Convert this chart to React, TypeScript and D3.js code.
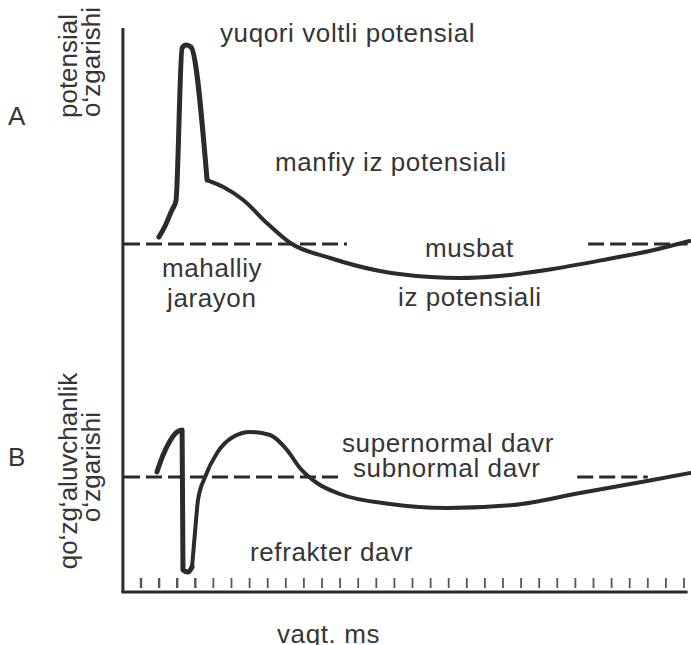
import * as d3 from "d3";

// time axis: one tick per unit
const tickTimes = d3.range(0, 31);

// A: membrane potential change (spike part, then trace potentials)
const spikeATime = [0.99, 1.33, 1.71, 1.93, 2.27, 2.49, 2.76, 3.65];
const spikeAValue = [3.5, 9, 17, 21.5, 98, 99.5, 98.5, 32];
const traceATime = [3.65, 4.55, 5.65, 6.95, 8.25, 10.45, 13.2, 16, 17.6, 19.8, 22.4, 26.1, 28.1, 30.3];
const traceAValue = [32, 28.5, 22, 10.5, 0.5, -7, -13.5, -16.5, -17, -16, -13, -7, -3.5, 1.5];

// B: excitability change
const spikeBTime = [0.88, 1.22, 1.6, 1.99, 2.27, 2.32, 2.6, 2.82];
const spikeBValue = [2.5, 11, 18, 22.5, 23.5, -46.5, -47.5, -45];
const traceBTime = [2.82, 2.98, 3.15, 3.54, 4.2, 5.08, 6.02, 7.13, 8.07, 8.78, 9.72, 10.99, 13.76, 16.9, 20.55, 24.25, 27.96, 30.33];
const traceBValue = [-45, -28, -11.5, 0, 12, 20, 22.5, 21, 13.5, 4.5, -3, -8.5, -13.5, -15.5, -14, -8, -2, 2];

// dashed zero lines (time spans, gaps left for labels)
const baselineA = [[-0.94, 11.38], [24.7, 30.2]];
const baselineB = [[-0.94, 10.99], [24.1, 28.0]];

const zip = (t: number[], v: number[]) => t.map((d, i) => ({ t: d, v: v[i] }));

export default function App() {
  const width = 691;
  const height = 645;

  const x = d3.scaleLinear().domain([0, 30]).range([141, 684]);
  const yA = d3.scaleLinear().domain([-20, 100]).range([284, 44]);
  const yB = d3.scaleLinear().domain([-50, 25]).range([577, 427]);

  const axisLeft = x(-1);
  const axisRight = x(30.2);
  const axisBottomY = 592;

  const lineA = d3.line<{ t: number; v: number }>().x((d) => x(d.t)).y((d) => yA(d.v));
  const lineB = d3.line<{ t: number; v: number }>().x((d) => x(d.t)).y((d) => yB(d.v));
  const smoothA = lineA.curve(d3.curveMonotoneX);
  const smoothB = lineB.curve(d3.curveMonotoneX);

  const ink = "#2b2b2b";
  const textColor = "#363636";
  const font = "'Liberation Sans', Arial, Helvetica, sans-serif";

  const label = (txt: string, lx: number, ly: number) => (
    <text x={lx} y={ly} fill={textColor} fontSize={26} letterSpacing={0.6} fontFamily={font}>
      {txt}
    </text>
  );
  const vlabel = (txt: string, lx: number, ly: number) => (
    <text
      transform={`translate(${lx},${ly}) rotate(-90)`}
      textAnchor="middle"
      fill={textColor}
      fontSize={26}
      fontFamily={font}
    >
      {txt}
    </text>
  );

  return (
    <svg
      width={width}
      height={height}
      viewBox={`0 0 ${width} ${height}`}
      style={{ position: "absolute", left: 0, top: 0, background: "#fff" }}
    >
      <rect width={width} height={height} fill="#fff" />

      {/* axes */}
      <line x1={axisLeft} x2={axisLeft} y1={28} y2={axisBottomY} stroke={ink} strokeWidth={3} />
      <line x1={axisLeft - 1.5} x2={axisRight} y1={axisBottomY} y2={axisBottomY} stroke={ink} strokeWidth={3} />
      {tickTimes.map((t) => (
        <line key={t} x1={x(t)} x2={x(t)} y1={578} y2={588} stroke="#555" strokeWidth={t < 4 ? 2.4 : 1.8} />
      ))}

      {/* zero lines */}
      {baselineA.map(([a, b], i) => (
        <line key={"a" + i} x1={x(a)} x2={x(b)} y1={yA(0)} y2={yA(0)} stroke={ink} strokeWidth={3} strokeDasharray="16 6" />
      ))}
      {baselineB.map(([a, b], i) => (
        <line key={"b" + i} x1={x(a)} x2={x(b)} y1={yB(0)} y2={yB(0)} stroke={ink} strokeWidth={3} strokeDasharray="16 6" />
      ))}

      {/* curves */}
      <path d={lineA(zip(spikeATime, spikeAValue)) ?? ""} fill="none" stroke={ink} strokeWidth={5} strokeLinejoin="round" strokeLinecap="round" />
      <path d={smoothA(zip(traceATime, traceAValue)) ?? ""} fill="none" stroke={ink} strokeWidth={4} strokeLinecap="round" />
      <path d={lineB(zip(spikeBTime, spikeBValue)) ?? ""} fill="none" stroke={ink} strokeWidth={5} strokeLinejoin="round" strokeLinecap="round" />
      <path d={smoothB(zip(traceBTime, traceBValue)) ?? ""} fill="none" stroke={ink} strokeWidth={4} strokeLinecap="round" />

      {/* annotations */}
      {label("yuqori voltli potensial", 220, 42)}
      {label("manfiy iz potensiali", 275, 171)}
      {label("musbat", 425, 257)}
      {label("iz potensiali", 398, 306)}
      {label("mahalliy", 162, 277)}
      {label("jarayon", 167, 307)}
      {label("supernormal davr", 342, 452)}
      {label("subnormal davr", 353, 477)}
      {label("refrakter davr", 250, 561)}
      {label("vaqt. ms", 277, 643)}
      {label("A", 8, 125)}
      {label("B", 8, 466)}

      {vlabel("potensial", 77, 66)}
      {vlabel("o‘zgarishi", 100, 62)}
      {vlabel("qo‘zg‘aluvchanlik", 77, 471)}
      {vlabel("o‘zgarishi", 100, 467)}
    </svg>
  );
}
